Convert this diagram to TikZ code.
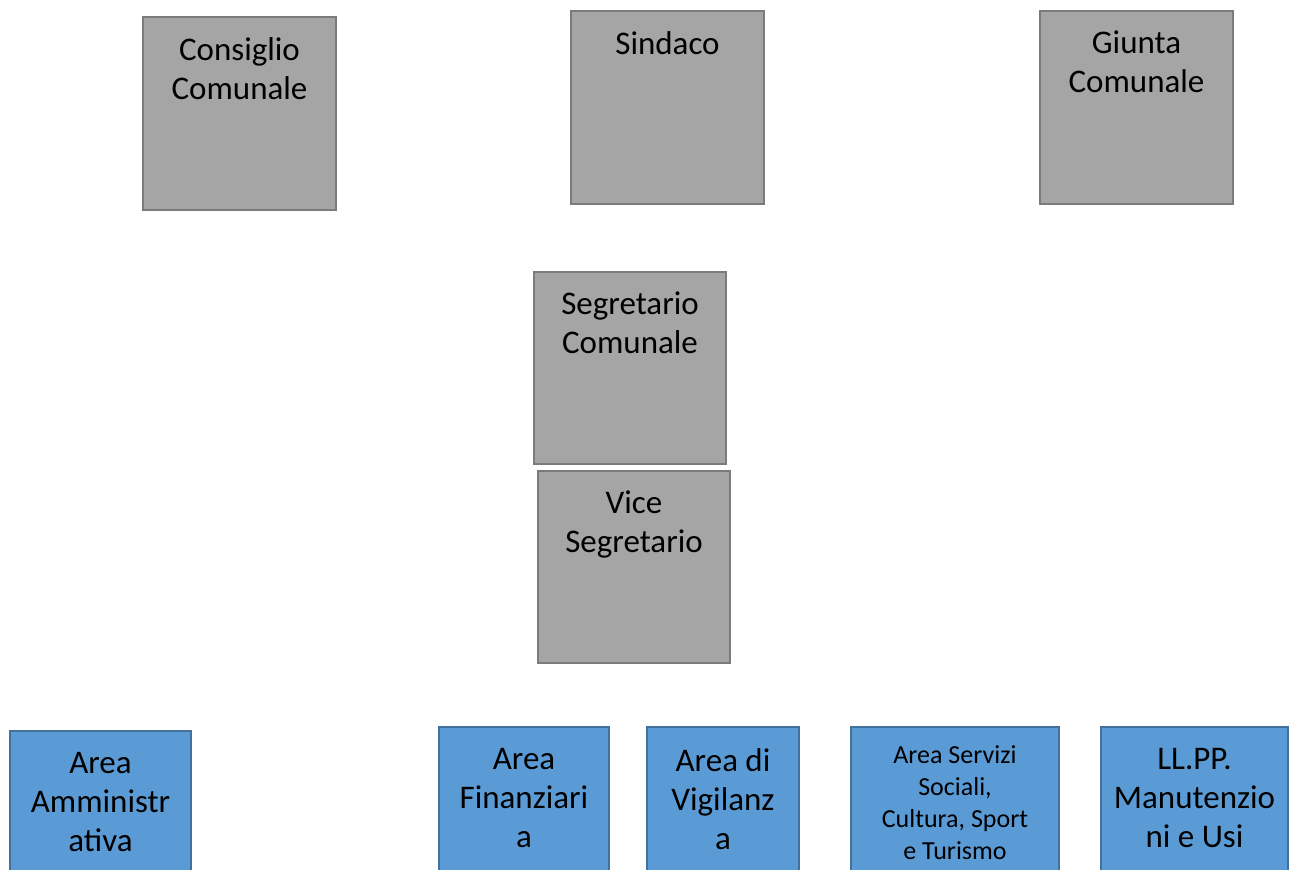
\documentclass[tikz,border=0pt]{standalone}
\usepackage{fontspec}
\setmainfont{Carlito}
\definecolor{grayfill}{HTML}{A5A5A5}
\definecolor{grayline}{HTML}{7B7B7B}
\definecolor{bluefill}{HTML}{5B9BD5}
\definecolor{blueline}{HTML}{41719C}
\begin{document}
\begin{tikzpicture}[x=1pt,y=-1pt,
  graybox/.style={draw=grayline,fill=grayfill,line width=2pt,rectangle,inner sep=0pt,anchor=north west},
  bluebox/.style={draw=blueline,fill=bluefill,line width=2pt,rectangle,inner sep=0pt,anchor=north west},
  bigtext/.style={anchor=north,inner sep=0pt,align=center,font=\fontsize{33}{39}\selectfont},
  smalltext/.style={anchor=north,inner sep=0pt,align=center,font=\fontsize{26}{32}\selectfont}]
\useasboundingbox (0,0) rectangle (1299,870);
\clip (0,0) rectangle (1299,870);
% top row
\node[graybox,minimum width=193pt,minimum height=193pt] (cons) at (142,16) {};
\node[bigtext] (consT) at ([yshift=-21pt]cons.north) {Consiglio\\Comunale};
\node[graybox,minimum width=193pt,minimum height=193pt] (sind) at (570,10) {};
\node[bigtext] (sindT) at ([yshift=-21pt]sind.north) {Sindaco};
\node[graybox,minimum width=193pt,minimum height=193pt] (giun) at (1039,10) {};
\node[bigtext] (giunT) at ([yshift=-21pt]giun.north) {Giunta\\Comunale};
% secretaries
\node[graybox,minimum width=192pt,minimum height=192pt] (segr) at (533,271) {};
\node[bigtext] (segrT) at ([yshift=-21pt]segr.north) {Segretario\\Comunale};
\node[graybox,minimum width=192pt,minimum height=192pt] (vice) at (537,470) {};
\node[bigtext] (viceT) at ([yshift=-21pt]vice.north) {Vice\\Segretario};
% areas
\node[bluebox,minimum width=181pt,minimum height=160pt] (amm) at (9,730) {};
\node[bigtext] (ammT) at ([yshift=-22pt]amm.north) {Area\\Amministr\\ativa};
\node[bluebox,minimum width=170pt,minimum height=164pt] (fin) at (438,726) {};
\node[bigtext] (finT) at ([yshift=-22pt]fin.north) {Area\\Finanziari\\a};
\node[bluebox,minimum width=152pt,minimum height=164pt] (vig) at (646,726) {};
\node[bigtext] (vigT) at ([yshift=-22pt]vig.north) {Area di\\Vigilanz\\a};
\node[bluebox,minimum width=208pt,minimum height=164pt] (soc) at (850,726) {};
\node[smalltext] (socT) at ([yshift=-19pt]soc.north) {Area Servizi\\Sociali,\\Cultura, Sport\\e Turismo};
\node[bluebox,minimum width=187pt,minimum height=164pt] (llpp) at (1100,726) {};
\node[bigtext] (llppT) at ([yshift=-22pt]llpp.north) {LL.PP.\\Manutenzio\\ni e Usi};
\end{tikzpicture}
\end{document}
